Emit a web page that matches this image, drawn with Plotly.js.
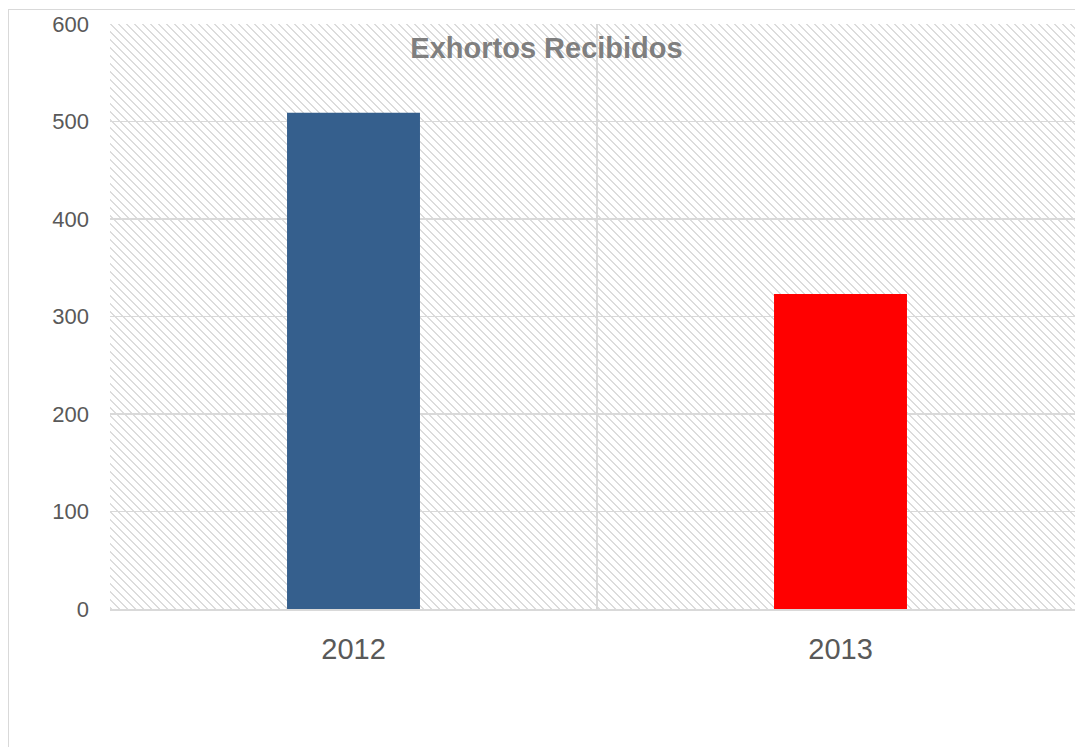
<!DOCTYPE html>
<html>
<head>
<meta charset="utf-8">
<script src="https://cdn.plot.ly/plotly-3.0.1.min.js"></script>
<style>
  html, body { margin: 0; padding: 0; background: #ffffff; overflow: hidden; }
  #wrap { position: relative; width: 1075px; height: 747px; }
  #chart { position: absolute; left: 0; top: 0; width: 1075px; height: 747px; }
  #frame { position: absolute; left: 8px; top: 9px; width: 1200px; height: 900px;
           border-left: 1.5px solid #d9d9d9; border-top: 1.5px solid #d9d9d9; pointer-events: none; }
</style>
</head>
<body>
<div id="wrap">
  <div id="frame"></div>
  <div id="chart"></div>
</div>
<script>
// ---- data ----
const categories = ["2012", "2013"];
const values = [509, 323];
const yTickValues = [0, 100, 200, 300, 400, 500, 600];
const chartTitle = "Exhortos Recibidos";

// ---- styles ----
const barColors = ["#355F8D", "#FF0000"];

// hatch background (decoration) built as an SVG pattern image
const plotW = 965, plotH = 585;
const hatchSvg =
  '<svg xmlns="http://www.w3.org/2000/svg" width="' + plotW + '" height="' + plotH + '" viewBox="0 0 ' + plotW + ' ' + plotH + '" shape-rendering="crispEdges">' +
  '<defs><pattern id="p" width="8" height="8" patternUnits="userSpaceOnUse">' +
  (function () {
    let s = '';
    for (let y = 0; y < 8; y++) {
      for (let x = 0; x < 8; x++) {
        const d = ((x - y) % 8 + 8) % 8;
        if (d === 0 || d === 1) s += '<rect x="' + x + '" y="' + y + '" width="1" height="1" fill="#dcdcdc"/>';
      }
    }
    return s;
  })() +
  '</pattern></defs><rect width="100%" height="100%" fill="#ffffff"/><rect width="100%" height="100%" fill="url(#p)"/></svg>';
const hatchSrc = "data:image/svg+xml;charset=utf-8," + encodeURIComponent(hatchSvg);

const trace = {
  type: "bar",
  x: categories,
  y: values,
  width: 0.273,
  marker: { color: barColors, line: { width: 0 } },
  hoverinfo: "x+y"
};

const layout = {
  width: 1075,
  height: 747,
  margin: { l: 110, r: 0, t: 24, b: 138, pad: 0 },
  paper_bgcolor: "rgba(0,0,0,0)",
  plot_bgcolor: "rgba(0,0,0,0)",
  showlegend: false,
  font: { family: "Liberation Sans, Arial, sans-serif", color: "#595959" },
  title: {
    text: "<b>" + chartTitle + "</b>",
    font: { family: "Liberation Sans, Arial, sans-serif", size: 29, color: "#7f7f7f" },
    xref: "container", yref: "container",
    x: 546.5 / 1075, xanchor: "center",
    y: 1 - 48 / 747, yanchor: "middle"
  },
  xaxis: {
    type: "category",
    range: [-0.5, 1.4815],
    tickson: "boundaries",
    showgrid: true,
    gridcolor: "#d9d9d9",
    gridwidth: 1.5,
    ticks: "",
    showline: true,
    linecolor: "#d9d9d9",
    linewidth: 2,
    tickfont: { size: 29, color: "#595959" },
    ticklabelstandoff: 13,
    fixedrange: true
  },
  yaxis: {
    range: [0, 600],
    tickvals: yTickValues,
    showgrid: true,
    gridcolor: "#d9d9d9",
    gridwidth: 1.5,
    zeroline: false,
    showline: false,
    ticks: "",
    tickfont: { size: 22, color: "#595959" },
    ticklabelstandoff: 20,
    fixedrange: true
  },
  images: [{
    source: hatchSrc,
    xref: "x domain", yref: "y domain",
    x: 0, y: 1, sizex: 1, sizey: 1,
    xanchor: "left", yanchor: "top",
    sizing: "stretch",
    layer: "below"
  }]
};

Plotly.newPlot("chart", [trace], layout, { displayModeBar: false, staticPlot: true });
</script>
</body>
</html>
